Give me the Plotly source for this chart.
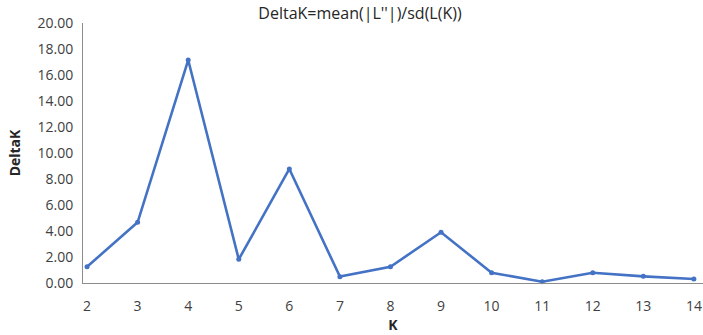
import plotly.graph_objects as go

K = [2, 3, 4, 5, 6, 7, 8, 9, 10, 11, 12, 13, 14]
deltaK = [1.25, 4.67, 17.15, 1.82, 8.77, 0.49, 1.25, 3.90, 0.79, 0.10, 0.79, 0.51, 0.31]
y_ticks = [0, 2, 4, 6, 8, 10, 12, 14, 16, 18, 20]

font = "Open Sans"
fig = go.Figure()
fig.add_trace(go.Scatter(
    x=K, y=deltaK, mode="lines+markers",
    line=dict(color="#4472C4", width=2.6),
    marker=dict(color="#4472C4", size=5),
    cliponaxis=False,
))
fig.update_layout(
    width=703, height=335,
    margin=dict(l=83, r=0, t=23, b=52),
    paper_bgcolor="white", plot_bgcolor="white",
    showlegend=False,
    title=dict(text="DeltaK=mean(|L''|)/sd(L(K))", x=360/703, xanchor="center",
               y=1 - 13/335, yanchor="middle",
               font=dict(family=font, size=16, color="#262626")),
    xaxis=dict(
        range=[1.92, 14.18], tickmode="array", tickvals=K, ticktext=[str(k) for k in K],
        showgrid=False, zeroline=False, showline=True, linecolor="#8c8c8c", linewidth=1,
        ticks="outside", ticklen=10, tickcolor="rgba(0,0,0,0)",
        tickfont=dict(family=font, size=14, color="#404040"),
        automargin=False, ticklabeloverflow="allow",
        title=dict(text="<b>K</b>", standoff=0, font=dict(family=font, size=14, color="#262626")),
    ),
    yaxis=dict(
        range=[0, 20], tickmode="array", tickvals=y_ticks,
        ticktext=[f"{v:.2f}" for v in y_ticks],
        showgrid=False, zeroline=False, showline=True, linecolor="#8c8c8c", linewidth=1,
        ticks="outside", ticklen=6, tickcolor="rgba(0,0,0,0)",
        tickfont=dict(family=font, size=14, color="#404040"),
        automargin=False,
        title=dict(text="<b>DeltaK</b>", standoff=13, font=dict(family=font, size=14, color="#262626")),
    ),
)
fig.write_html("out.html", config={"displayModeBar": False})
with open("out.html", encoding="utf-8") as f:
    html = f.read()
html = html.replace("<body>", '<body style="margin:0;padding:0;overflow:hidden">', 1)
with open("out.html", "w", encoding="utf-8") as f:
    f.write(html)
